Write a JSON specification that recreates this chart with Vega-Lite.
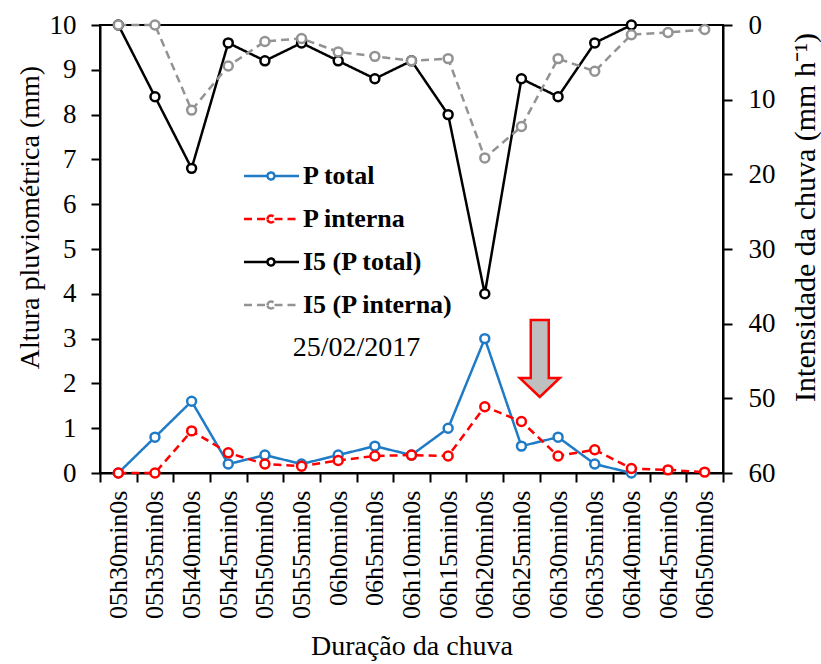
{
  "$schema": "https://vega.github.io/schema/vega-lite/v6.json",
  "autosize": {"type": "none"},
  "width": 623,
  "height": 448,
  "padding": {"left": 100, "top": 25, "right": 98, "bottom": 191},
  "background": "white",
  "config": {
    "font": "'Liberation Serif', 'Times New Roman', serif",
    "view": {"stroke": "black", "strokeWidth": 2},
    "axis": {
      "domainColor": "black", "domainWidth": 2, "tickColor": "black", "tickWidth": 2, "tickSize": 9,
      "labelColor": "black", "titleColor": "black", "labelFont": "'Liberation Serif', 'Times New Roman', serif", "titleFont": "'Liberation Serif', 'Times New Roman', serif",
      "titleFontWeight": "normal", "grid": false
    },
    "legend": {
      "orient": "none", "legendX": 176, "legendY": 138, "padding": 0,
      "symbolType": "M -4.5 0 L -2.15 0 M -1.45 0 L 1 0 M -2.15 0 A 0.35 0.35 0 1 1 -1.45 0 A 0.35 0.35 0 1 1 -2.15 0",
      "symbolSize": 400, "symbolStrokeWidth": 2.5, "symbolFillColor": "white",
      "labelFont": "'Liberation Serif', 'Times New Roman', serif", "labelFontSize": 26, "labelFontWeight": "bold", "labelColor": "black",
      "labelOffset": 1, "rowPadding": 17, "labelLimit": 400
    }
  },
  "datasets": {
    "main": [
      {"t": "05h30min0s", "series": "P total", "value": 0},
      {"t": "05h35min0s", "series": "P total", "value": 0.8},
      {"t": "05h40min0s", "series": "P total", "value": 1.6},
      {"t": "05h45min0s", "series": "P total", "value": 0.2},
      {"t": "05h50min0s", "series": "P total", "value": 0.4},
      {"t": "05h55min0s", "series": "P total", "value": 0.2},
      {"t": "06h0min0s", "series": "P total", "value": 0.4},
      {"t": "06h5min0s", "series": "P total", "value": 0.6},
      {"t": "06h10min0s", "series": "P total", "value": 0.4},
      {"t": "06h15min0s", "series": "P total", "value": 1.0},
      {"t": "06h20min0s", "series": "P total", "value": 3.0},
      {"t": "06h25min0s", "series": "P total", "value": 0.6},
      {"t": "06h30min0s", "series": "P total", "value": 0.8},
      {"t": "06h35min0s", "series": "P total", "value": 0.2},
      {"t": "06h40min0s", "series": "P total", "value": 0},
      {"t": "05h30min0s", "series": "P interna", "value": 0},
      {"t": "05h35min0s", "series": "P interna", "value": 0},
      {"t": "05h40min0s", "series": "P interna", "value": 0.94},
      {"t": "05h45min0s", "series": "P interna", "value": 0.45},
      {"t": "05h50min0s", "series": "P interna", "value": 0.2},
      {"t": "05h55min0s", "series": "P interna", "value": 0.15},
      {"t": "06h0min0s", "series": "P interna", "value": 0.28},
      {"t": "06h5min0s", "series": "P interna", "value": 0.38},
      {"t": "06h10min0s", "series": "P interna", "value": 0.4},
      {"t": "06h15min0s", "series": "P interna", "value": 0.38},
      {"t": "06h20min0s", "series": "P interna", "value": 1.48},
      {"t": "06h25min0s", "series": "P interna", "value": 1.15},
      {"t": "06h30min0s", "series": "P interna", "value": 0.38},
      {"t": "06h35min0s", "series": "P interna", "value": 0.52},
      {"t": "06h40min0s", "series": "P interna", "value": 0.1},
      {"t": "06h45min0s", "series": "P interna", "value": 0.07},
      {"t": "06h50min0s", "series": "P interna", "value": 0.02},
      {"t": "05h30min0s", "series": "I5 (P total)", "value": 0},
      {"t": "05h35min0s", "series": "I5 (P total)", "value": 9.6},
      {"t": "05h40min0s", "series": "I5 (P total)", "value": 19.2},
      {"t": "05h45min0s", "series": "I5 (P total)", "value": 2.4},
      {"t": "05h50min0s", "series": "I5 (P total)", "value": 4.8},
      {"t": "05h55min0s", "series": "I5 (P total)", "value": 2.4},
      {"t": "06h0min0s", "series": "I5 (P total)", "value": 4.8},
      {"t": "06h5min0s", "series": "I5 (P total)", "value": 7.2},
      {"t": "06h10min0s", "series": "I5 (P total)", "value": 4.8},
      {"t": "06h15min0s", "series": "I5 (P total)", "value": 12},
      {"t": "06h20min0s", "series": "I5 (P total)", "value": 36},
      {"t": "06h25min0s", "series": "I5 (P total)", "value": 7.2},
      {"t": "06h30min0s", "series": "I5 (P total)", "value": 9.6},
      {"t": "06h35min0s", "series": "I5 (P total)", "value": 2.4},
      {"t": "06h40min0s", "series": "I5 (P total)", "value": 0},
      {"t": "05h30min0s", "series": "I5 (P interna)", "value": 0},
      {"t": "05h35min0s", "series": "I5 (P interna)", "value": 0},
      {"t": "05h40min0s", "series": "I5 (P interna)", "value": 11.4},
      {"t": "05h45min0s", "series": "I5 (P interna)", "value": 5.5},
      {"t": "05h50min0s", "series": "I5 (P interna)", "value": 2.2},
      {"t": "05h55min0s", "series": "I5 (P interna)", "value": 1.8},
      {"t": "06h0min0s", "series": "I5 (P interna)", "value": 3.6},
      {"t": "06h5min0s", "series": "I5 (P interna)", "value": 4.2},
      {"t": "06h10min0s", "series": "I5 (P interna)", "value": 4.8},
      {"t": "06h15min0s", "series": "I5 (P interna)", "value": 4.5},
      {"t": "06h20min0s", "series": "I5 (P interna)", "value": 17.8},
      {"t": "06h25min0s", "series": "I5 (P interna)", "value": 13.6},
      {"t": "06h30min0s", "series": "I5 (P interna)", "value": 4.5},
      {"t": "06h35min0s", "series": "I5 (P interna)", "value": 6.2},
      {"t": "06h40min0s", "series": "I5 (P interna)", "value": 1.3},
      {"t": "06h45min0s", "series": "I5 (P interna)", "value": 1.0},
      {"t": "06h50min0s", "series": "I5 (P interna)", "value": 0.6}
    ],
    "notes": [
      {"t": "06h0min0s", "value": 2.8, "label": "25/02/2017"}
    ],
    "arrow": [
      {"t": "06h25min0s", "value": 2.5}
    ]
  },
  "encoding": {
    "x": {
      "field": "t", "type": "ordinal", "bandPosition": 0.5,
      "scale": {"type": "band", "paddingInner": 0, "paddingOuter": 0,
        "domain": ["05h30min0s","05h35min0s","05h40min0s","05h45min0s","05h50min0s","05h55min0s","06h0min0s","06h5min0s","06h10min0s","06h15min0s","06h20min0s","06h25min0s","06h30min0s","06h35min0s","06h40min0s","06h45min0s","06h50min0s"]},
      "axis": {"title": "Duração da chuva", "titleFontSize": 28, "titlePadding": 14, "labelAngle": -90, "labelFontSize": 26, "labelPadding": 8, "tickBand": "extent"}
    }
  },
  "layer": [
    {
      "data": {"name": "main"},
      "transform": [{"filter": "datum.series === 'I5 (P total)' || datum.series === 'I5 (P interna)'"}],
      "encoding": {
        "y": {"field": "value", "type": "quantitative",
          "scale": {"domain": [0, 60], "reverse": true, "nice": false},
          "axis": {"orient": "right", "values": [0,10,20,30,40,50,60], "labelFontSize": 27, "labelPadding": 16,
            "title": "Intensidade da chuva (mm h⁻¹)", "titleFontSize": 30, "titleAngle": -90,
            "titleX": 82, "titleY": 192, "titleAlign": "center", "titleBaseline": "middle"}},
        "color": {"field": "series", "type": "nominal",
          "scale": {"domain": ["P total", "P interna", "I5 (P total)", "I5 (P interna)"], "range": ["#1F7BC6", "#FF0000", "#000000", "#939393"]},
          "legend": {"title": null}},
        "detail": {"field": "series"}
      },
      "layer": [
        {"mark": {"type": "line", "strokeWidth": 2.5},
         "encoding": {"strokeDash": {"field": "series", "type": "nominal",
           "scale": {"domain": ["P total", "P interna", "I5 (P total)", "I5 (P interna)"], "range": [[1,0],[8,5],[1,0],[8,5]]},
           "legend": {"title": null}}}},
        {"mark": {"type": "point", "shape": "circle", "filled": false, "fill": "white", "fillOpacity": 1, "opacity": 1, "size": 80, "strokeWidth": 2.5}}
      ]
    },
    {
      "layer": [
        {
          "data": {"name": "main"},
          "transform": [{"filter": "datum.series === 'P total' || datum.series === 'P interna'"}],
          "encoding": {
            "y": {"field": "value", "type": "quantitative",
              "scale": {"domain": [0, 10], "nice": false},
              "axis": {"orient": "left", "values": [0,1,2,3,4,5,6,7,8,9,10], "labelFontSize": 27, "labelPadding": 15,
                "title": "Altura pluviométrica (mm)", "titleFontSize": 28, "titleAngle": -90,
                "titleX": -70, "titleY": 192, "titleAlign": "center", "titleBaseline": "middle"}},
            "color": {"field": "series", "type": "nominal", "legend": {"title": null}}
          },
          "layer": [
            {"mark": {"type": "line", "strokeWidth": 2.5},
             "encoding": {"strokeDash": {"field": "series", "type": "nominal", "legend": {"title": null}}}},
            {"mark": {"type": "point", "shape": "circle", "filled": false, "fill": "white", "fillOpacity": 1, "opacity": 1, "size": 80, "strokeWidth": 2.5}}
          ]
        },
        {
          "data": {"name": "notes"},
          "mark": {"type": "text", "fontSize": 28, "font": "'Liberation Serif', 'Times New Roman', serif", "color": "black", "baseline": "middle", "align": "center"},
          "encoding": {
            "x": {"field": "t", "type": "ordinal", "bandPosition": 1},
            "y": {"field": "value", "type": "quantitative"},
            "text": {"field": "label"}
          }
        },
        {
          "data": {"name": "arrow"},
          "mark": {"type": "point", "shape": "M -0.45 -2.05 L 0.45 -2.05 L 0.45 0.85 L 1 0.85 L 0 1.8 L -1 0.85 L -0.45 0.85 Z",
            "size": 1600, "filled": true, "fill": "#BFBFBF", "fillOpacity": 1, "opacity": 1, "stroke": "#FF0000", "strokeWidth": 2.5},
          "encoding": {
            "x": {"field": "t", "type": "ordinal", "bandPosition": 1},
            "y": {"field": "value", "type": "quantitative"}
          }
        }
      ]
    }
  ],
  "resolve": {"scale": {"y": "independent"}, "axis": {"y": "independent"}}
}
